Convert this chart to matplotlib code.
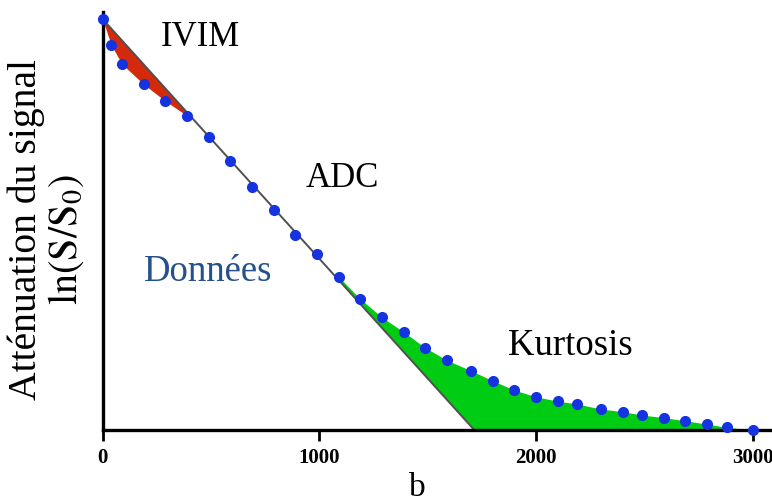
import numpy as np
import matplotlib
matplotlib.use('Agg')
import matplotlib.pyplot as plt

plt.rcParams['font.family'] = ['Liberation Serif', 'DejaVu Serif']
plt.rcParams['mathtext.fontset'] = 'stix'

# valeurs de b (s/mm2) et signal ln(S/S0)
b_data = [0, 40, 90, 190, 290, 390, 490, 590, 690, 790, 890, 990, 1090,
          1190, 1290, 1390, 1490, 1590, 1700, 1800, 1900, 2000, 2100, 2190,
          2300, 2400, 2490, 2590, 2690, 2790, 2880, 3000]
lnS = [0.0, -0.108, -0.188, -0.272, -0.342, -0.403, -0.492, -0.592, -0.699,
       -0.796, -0.900, -0.980, -1.074, -1.167, -1.243, -1.304, -1.370, -1.422,
       -1.465, -1.507, -1.546, -1.574, -1.592, -1.604, -1.625, -1.636, -1.650,
       -1.661, -1.674, -1.688, -1.701, -1.7125]
adc = 0.998e-3
ymin = -1.7125

b = np.array(b_data)
s = np.array(lnS)

W, H = 772, 504
fig = plt.figure(figsize=(W / 100, H / 100), dpi=100)
ax = fig.add_axes([0.1328, 0.1468, 0.8672, 0.8294])

def px(x, y):
    return x / W, 1 - y / H

# IVIM (rouge)
bb = np.linspace(0, 390, 100)
ax.fill_between(bb, -adc * bb, np.interp(bb, b, s), color='#d42a0c', lw=0)

# Kurtosis (vert)
bb = np.linspace(1090, 3000, 400)
ax.fill_between(bb, np.maximum(-adc * bb, ymin), np.interp(bb, b, s),
                color='#00cc14', lw=0)

# ADC
bl = np.array([0, -ymin / adc])
ax.plot(bl, -adc * bl, color='#505050', lw=1.4)

ax.plot(b, s, 'o', color='#1533e0', ms=7, clip_on=False, zorder=5)

ax.set_xlim(0, 3090)
ax.set_ylim(ymin, 0.029)
ax.set_yticks([])
ax.set_xticks([0, 1000, 2000, 3000])
for lab in ax.get_xticklabels():
    lab.set_fontweight('bold')
ax.tick_params(axis='x', direction='out', length=8, width=2, labelsize=15, pad=5)
for side in ['top', 'right']:
    ax.spines[side].set_visible(False)
for side in ['left', 'bottom']:
    ax.spines[side].set_linewidth(2.4)

fig.text(*px(417, 496), 'b', fontsize=24, ha='center', va='baseline')
fig.text(*px(26, 230), 'Atténuation du signal', fontsize=28.5, rotation=90,
         ha='center', va='center')
fig.text(*px(66, 240), r'$\mathrm{ln(S/S_0)}$', fontsize=29, rotation=90,
         ha='center', va='center')

fig.text(*px(200, 38), 'IVIM', fontsize=25, ha='center', va='center')
fig.text(*px(342, 178), 'ADC', fontsize=25, ha='center', va='center')
fig.text(*px(208, 272), 'Données', fontsize=26.5, ha='center', va='center', color='#24508c')
fig.text(*px(570, 346), 'Kurtosis', fontsize=26.5, ha='center', va='center')

fig.savefig('out.png')
